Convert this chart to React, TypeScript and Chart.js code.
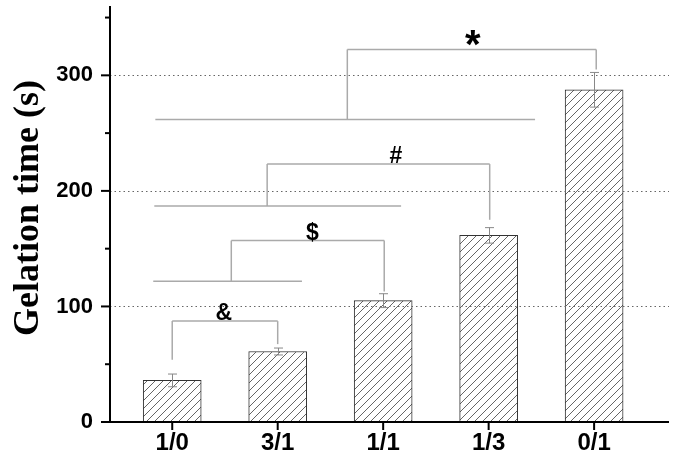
import React, { useEffect, useRef } from 'react';
import { Chart, registerables } from 'chart.js';

Chart.register(...registerables);

// ---- data ----
const categories = ['1/0', '3/1', '1/1', '1/3', '0/1'];
const positions = [1, 2, 3, 4, 5];
const gelationTime = [36, 61, 105, 161.5, 287.5];
const errorSD = [5.5, 3, 6, 6.7, 15];
const yTicks = [0, 100, 200, 300];
const yMinorTicks = [50, 150, 250, 350];
const yTitle = 'Gelation time (s)';

// significance brackets
const bracketSymbols = ['&', '$', '#', '*'];
const bracketTop = [87.3, 157, 223.2, 322.4];
const bracketLeftX = [1.0, 1.56, 1.9, 2.66];
const bracketRightX = [2.0, 3.01, 4.01, 5.02];
const bracketLeftEnd = [53.8, 121.8, 187, 261.7];
const bracketRightEnd = [67.4, 113, 175, 305];
const groupStartX = [null, 0.82, 0.83, 0.84];
const groupEndX = [null, 2.23, 3.17, 4.44];
const symbolX = [1.49, 2.33, 3.12, 3.85];
const symbolBottom = [88.3, 156, 224.5, 325];

// ---- styles ----
const symbolFontSize = [23, 23, 23, 40];

function makeHatch(): CanvasPattern | string {
  const s = 8;
  const c = document.createElement('canvas');
  c.width = s;
  c.height = s;
  const g = c.getContext('2d');
  if (!g) return '#fff';
  g.fillStyle = '#ffffff';
  g.fillRect(0, 0, s, s);
  g.strokeStyle = '#555';
  g.lineWidth = 0.9;
  g.beginPath();
  g.moveTo(0, s);
  g.lineTo(s, 0);
  g.moveTo(-1, 1);
  g.lineTo(1, -1);
  g.moveTo(s - 1, s + 1);
  g.lineTo(s + 1, s - 1);
  g.stroke();
  const p = g.createPattern(c, 'repeat');
  return p || '#fff';
}

const overlayPlugin = {
  id: 'overlay',
  afterDatasetsDraw(chart: any) {
    const { ctx, chartArea: ca, scales } = chart;
    const x = scales.x;
    const y = scales.y;
    ctx.save();

    const line = (x1: number, y1: number, x2: number, y2: number) => {
      ctx.beginPath();
      ctx.moveTo(x1, y1);
      ctx.lineTo(x2, y2);
      ctx.stroke();
    };

    // dotted grid lines
    ctx.strokeStyle = '#666';
    ctx.lineWidth = 1;
    ctx.setLineDash([1.5, 3]);
    yTicks.slice(1).forEach((v) => {
      const py = Math.round(y.getPixelForValue(v)) + 0.5;
      line(ca.left, py, ca.right, py);
    });
    ctx.setLineDash([]);

    // error bars
    ctx.strokeStyle = '#888';
    ctx.lineWidth = 1;
    positions.forEach((p, i) => {
      const px = Math.round(x.getPixelForValue(p)) + 0.5;
      const top = y.getPixelForValue(gelationTime[i] + errorSD[i]);
      const bot = y.getPixelForValue(gelationTime[i] - errorSD[i]);
      line(px, top, px, bot);
      line(px - 4.5, top, px + 4.5, top);
      line(px - 4.5, bot, px + 4.5, bot);
    });

    // brackets
    ctx.strokeStyle = '#aaa';
    ctx.lineWidth = 1.5;
    bracketSymbols.forEach((sym, i) => {
      const ty = y.getPixelForValue(bracketTop[i]);
      const lx = x.getPixelForValue(bracketLeftX[i]);
      const rx = x.getPixelForValue(bracketRightX[i]);
      const ly = y.getPixelForValue(bracketLeftEnd[i]);
      const ry = y.getPixelForValue(bracketRightEnd[i]);
      line(lx, ty, rx, ty);
      line(lx, ty, lx, ly);
      line(rx, ty, rx, ry);
      const gs = groupStartX[i];
      const ge = groupEndX[i];
      if (gs !== null && ge !== null) {
        line(x.getPixelForValue(gs), ly, x.getPixelForValue(ge), ly);
      }
      ctx.fillStyle = '#000';
      ctx.font = `bold ${symbolFontSize[i]}px "Liberation Sans", Arial, sans-serif`;
      ctx.textAlign = 'center';
      ctx.textBaseline = 'alphabetic';
      const m = ctx.measureText(sym);
      const bottomPx = y.getPixelForValue(symbolBottom[i]);
      ctx.fillText(sym, x.getPixelForValue(symbolX[i]), bottomPx - m.actualBoundingBoxDescent);
    });

    // axes
    ctx.strokeStyle = '#000';
    ctx.lineWidth = 2;
    const zeroY = y.getPixelForValue(0);
    line(ca.left, ca.top, ca.left, zeroY + 1);
    line(ca.left - 1, zeroY, ca.right, zeroY);
    yTicks.forEach((v) => {
      const py = y.getPixelForValue(v);
      line(ca.left - 9, py, ca.left, py);
    });
    yMinorTicks.forEach((v) => {
      const py = y.getPixelForValue(v);
      line(ca.left - 5, py, ca.left, py);
    });
    positions.forEach((p) => {
      const px = x.getPixelForValue(p);
      line(px, zeroY, px, zeroY + 8);
    });

    // y title
    ctx.save();
    ctx.fillStyle = '#000';
    ctx.font = 'bold 36px "Liberation Serif", "Times New Roman", serif';
    ctx.textAlign = 'center';
    ctx.textBaseline = 'alphabetic';
    ctx.translate(38, (ca.top + ca.bottom) / 2 - 6);
    ctx.rotate(-Math.PI / 2);
    ctx.fillText(yTitle, 0, 0);
    ctx.restore();

    ctx.restore();
  },
};

export default function App() {
  const ref = useRef<HTMLCanvasElement | null>(null);

  useEffect(() => {
    document.body.style.margin = '0';
    const canvas = ref.current;
    if (!canvas) return;
    const hatch = makeHatch();
    const chart = new Chart(canvas, {
      type: 'bar',
      data: {
        datasets: [
          {
            label: 'Gelation time',
            data: positions.map((p, i) => ({ x: p, y: gelationTime[i] })),
            backgroundColor: hatch as any,
            borderColor: '#333',
            borderWidth: 1,
            barThickness: 58,
          },
        ],
      },
      options: {
        animation: false,
        responsive: false,
        devicePixelRatio: 1,
        layout: { padding: { top: 6, right: 6, left: 0, bottom: 0 } },
        plugins: {
          legend: { display: false },
          tooltip: { enabled: false },
        },
        scales: {
          x: {
            type: 'linear',
            offset: false,
            min: 0.41,
            max: 5.71,
            grid: { display: false, drawTicks: false, offset: false },
            border: { display: false },
            afterBuildTicks: (scale: any) => {
              scale.ticks = positions.map((v) => ({ value: v }));
            },
            afterFit: (scale: any) => {
              scale.height = 36;
              scale.paddingLeft = 0;
              scale.paddingRight = 0;
            },
            ticks: {
              padding: 7,
              autoSkip: false,
              maxRotation: 0,
              color: '#000',
              font: { family: '"Liberation Sans", Arial, sans-serif', size: 24, weight: 'bold' },
              callback: (v: any) => {
                const idx = positions.indexOf(Number(v));
                return idx >= 0 ? categories[idx] : '';
              },
            },
          },
          y: {
            type: 'linear',
            min: 0,
            max: 360,
            grid: { display: false, drawTicks: false },
            border: { display: false },
            afterBuildTicks: (scale: any) => {
              scale.ticks = yTicks.map((v) => ({ value: v }));
            },
            afterFit: (scale: any) => {
              scale.width = 110;
              scale.paddingTop = 0;
              scale.paddingBottom = 0;
            },
            ticks: {
              padding: 17,
              color: '#000',
              font: { family: '"Liberation Sans", Arial, sans-serif', size: 22, weight: 'bold' },
            },
          },
        },
      } as any,
      plugins: [overlayPlugin],
    });
    return () => chart.destroy();
  }, []);

  return (
    <div style={{ width: 675, height: 458, background: '#fff' }}>
      <canvas ref={ref} width={675} height={458} />
    </div>
  );
}
